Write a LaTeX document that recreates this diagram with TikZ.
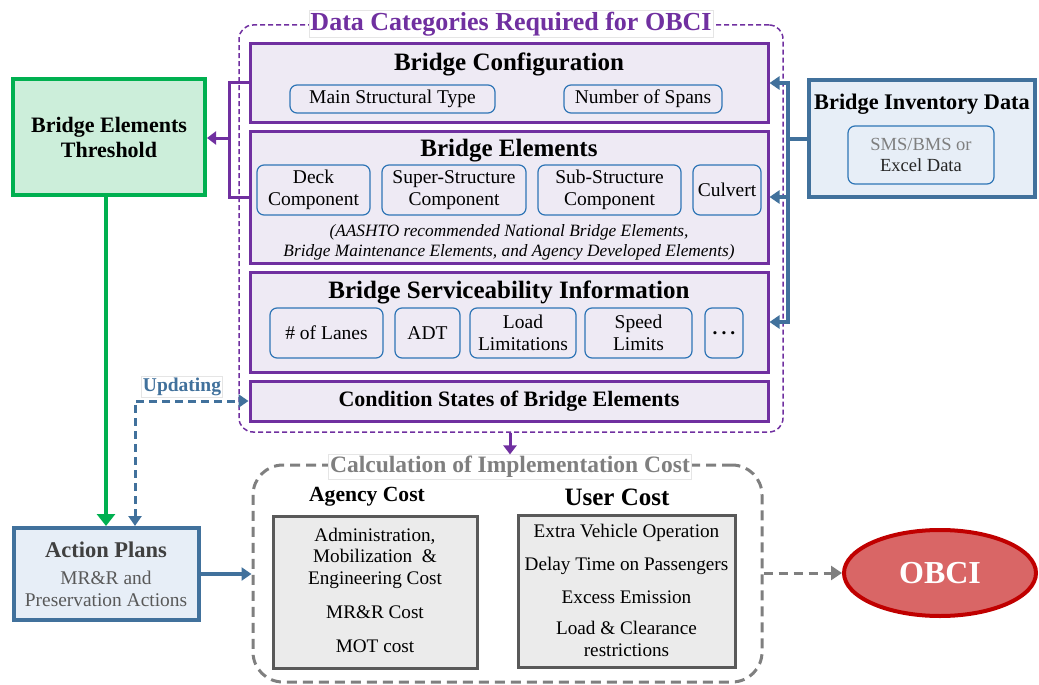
\documentclass[tikz,border=0pt]{standalone}
\usepackage{fontspec}
\setmainfont{Liberation Serif}
\usetikzlibrary{positioning,shapes.geometric,arrows.meta}
\definecolor{purp}{HTML}{7030A0}
\definecolor{lav}{HTML}{EEEAF4}
\definecolor{inblue}{HTML}{2E75B6}
\definecolor{grn}{HTML}{00B050}
\definecolor{lgrn}{HTML}{CCEEDA}
\definecolor{steel}{HTML}{41719C}
\definecolor{lsteel}{HTML}{E7EEF7}
\definecolor{dgray}{HTML}{595959}
\definecolor{mgray}{HTML}{7F7F7F}
\definecolor{lgray}{HTML}{EBEBEB}
\definecolor{dred}{HTML}{C00000}
\definecolor{lred}{HTML}{D96666}
\newcommand{\fsz}[2]{\fontsize{#1pt}{#2pt}\selectfont}
\begin{document}
\begin{tikzpicture}[x=1pt, y=-1pt,
	cat/.style = {draw=purp, line width=3pt, fill=lav, minimum width=518pt},
	item/.style = {draw=inblue, line width=1.2pt, rounded corners=7pt, align=center, inner sep=0pt, minimum height=50pt, font=\fsz{19.5}{22}},
	head/.style = {font=\bfseries\fsz{25}{28}},
	tag/.style = {fill=white, draw=gray!20, line width=0.6pt, inner sep=1.5pt},
	costbox/.style = {draw=dgray, line width=3pt, fill=lgray, minimum height=152pt},
	ctext/.style = {align=center, font=\fsz{19.2}{21.5}},
	purpline/.style = {draw=purp, line width=3pt},
	purparr/.style = {purpline, -{Triangle[length=9pt,width=13pt]}},
	blueline/.style = {draw=steel, line width=3.5pt},
	bluearr/.style = {blueline, -{Triangle[length=10pt,width=13pt]}},
	grnarr/.style = {draw=grn, line width=4pt, -{Triangle[length=12pt,width=18pt]}},
	updarr/.style = {draw=steel, line width=3pt, dash pattern=on 8pt off 5pt, {Triangle[length=10pt,width=13pt]}-{Triangle[length=10pt,width=13pt]}},
	grayarr/.style = {draw=mgray, line width=3pt, dash pattern=on 9pt off 6pt, -{Triangle[length=11pt,width=14pt]}}]

	\useasboundingbox (0,0) rectangle (1039,685);

	% data categories
	\node[draw=purp, line width=1.5pt, dash pattern=on 5pt off 3pt, rounded corners=14pt, minimum width=544pt, minimum height=407pt] (dc) at (511,228.5) {};
	\node[tag, text=purp, font=\bfseries\fsz{26}{30}] (dcT) at (511,24) {Data Categories Required for OBCI};

	\node[cat, minimum height=78pt] (cfg) at (509,83) {};
	\node[head] (cfgT) at (509,64) {Bridge Configuration};
	\node[item, minimum width=205pt, minimum height=28pt] (mst) at (392.5,99) {Main Structural Type};
	\node[item, minimum width=158pt, minimum height=28pt] (nos) at (643,99) {Number of Spans};

	\node[cat, minimum height=132pt] (elem) at (509,197) {};
	\node[head] (elemT) at (509,151) {Bridge Elements};
	\node[item, minimum width=113pt] (deck) at (313.5,190) {Deck\\Component};
	\node[item, minimum width=144pt] (sup) at (454,190) {Super-Structure\\Component};
	\node[item, minimum width=143pt] (sub) at (609.5,190) {Sub-Structure\\Component};
	\node[item, minimum width=68pt] (culv) at (727,190) {Culvert};
	\node[align=center, font=\itshape\fsz{17.3}{20.5}] (aash) at (509,242.5) {(AASHTO recommended National Bridge Elements,\\Bridge Maintenance Elements, and Agency Developed Elements)};

	\node[cat, minimum height=100pt] (serv) at (509,322) {};
	\node[head] (servT) at (509,292) {Bridge Serviceability Information};
	\node[item, minimum width=113pt] (lanes) at (326.5,333) {\# of Lanes};
	\node[item, minimum width=65pt] (adt) at (427.5,333) {ADT};
	\node[item, minimum width=106pt] (load) at (523,333) {Load\\Limitations};
	\node[item, minimum width=107pt] (speed) at (638.5,333) {Speed\\Limits};
	\node[item, minimum width=38pt] (dots) at (724,333) {\bfseries .\hspace{4pt}.\hspace{4pt}.};

	\node[cat, minimum height=40pt, font=\bfseries\fsz{22}{26}] (cond) at (509,401) {Condition States of Bridge Elements};

	% side boxes
	\node[draw=grn, line width=4pt, fill=lgrn, minimum width=192pt, minimum height=116pt, align=center, font=\bfseries\fsz{22}{25}] (thr) at (109,137) {Bridge Elements\\Threshold};

	\node[draw=steel, line width=4pt, fill=lsteel, minimum width=226pt, minimum height=116pt] (inv) at (922,138.5) {};
	\node[font=\bfseries\fsz{22.3}{26}] (invT) at (922,104) {Bridge Inventory Data};
	\node[item, minimum width=146pt, minimum height=58pt, font=\fsz{18.5}{21.5}] (sms) at (921,155) {\textcolor{mgray}{SMS/BMS or}\\\textcolor{black!85}{Excel Data}};

	\node[draw=steel, line width=4pt, fill=lsteel, minimum width=185pt, minimum height=92pt] (act) at (106,574) {};
	\node[font=\bfseries\fsz{22.5}{26}, text=black!75] (actT) at (106,550) {Action Plans};
	\node[align=center, font=\fsz{19.4}{22.5}, text=dgray] (actD) at (106,589) {MR\&R and\\Preservation Actions};

	% implementation cost
	\node[draw=mgray, line width=3pt, dash pattern=on 10pt off 6pt, rounded corners=30pt, minimum width=509pt, minimum height=217pt] (calc) at (507.5,573.5) {};
	\node[tag, text=mgray, font=\bfseries\fsz{23.5}{27}] (calcT) at (510,467) {Calculation of Implementation Cost};

	\node[font=\bfseries\fsz{21.6}{25}] (agT) at (367,497) {Agency Cost};
	\node[font=\bfseries\fsz{25}{29}] (ucT) at (617,497) {User Cost};
	\node[costbox, minimum width=204pt] (ag) at (375,592) {};
	\node[costbox, minimum width=217pt] (uc) at (626.5,591.5) {};
	\node[ctext] (ag1) at (375,558) {Administration,\\Mobilization~~\&\\Engineering Cost};
	\node[ctext] (ag2) at (375,612) {MR\&R Cost};
	\node[ctext] (ag3) at (375,646) {MOT cost};
	\node[ctext] (uc1) at (626.5,533) {Extra Vehicle Operation};
	\node[ctext] (uc2) at (626.5,566) {Delay Time on Passengers};
	\node[ctext] (uc3) at (626.5,597) {Excess Emission};
	\node[ctext, font=\fsz{19.2}{22}] (uc4) at (626.5,639) {Load \& Clearance\\restrictions};

	\node[ellipse, draw=dred, line width=4pt, fill=lred, minimum width=192pt, minimum height=86pt, text=white, font=\bfseries\fsz{32}{36}] (obci) at (940,573) {OBCI};

	\node[tag, text=steel, font=\bfseries\fsz{19.5}{23}] (updT) at (182,387) {Updating};

	% connectors
	\coordinate (lb) at (229,138);
	\coordinate (rb) at (788,139);
	\coordinate (up) at (135,402);
	\draw[purpline] (cfg.west) -| (lb) |- (elem.west);
	\draw[purparr] (lb) -- (lb -| thr.east);
	\draw[blueline] (inv.west |- rb) -- (rb);
	\draw[bluearr] (rb) |- (cfg.east);
	\draw[bluearr] (rb) |- (elem.east);
	\draw[bluearr] (rb) |- (serv.east);
	\draw[purparr] (dc.south -| calcT.north) -- (calcT.north);
	\draw[grnarr] (thr.south -| act.north) -- (act.north);
	\draw[updarr] (act.north -| up) |- (cond.west);
	\draw[bluearr] (act.east) -- (act.east -| calc.west);
	\draw[grayarr] (calc.east |- obci.west) -- (obci.west);
\end{tikzpicture}
\end{document}
